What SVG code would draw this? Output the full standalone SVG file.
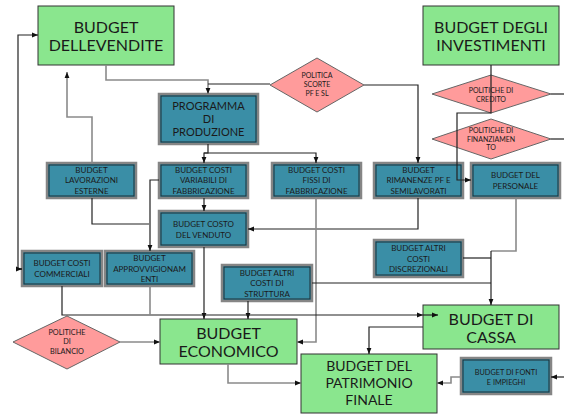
<svg xmlns="http://www.w3.org/2000/svg" width="564" height="414" viewBox="0 0 564 414">
<defs>
<style>
.g{fill:#8ae68e;stroke:#333;stroke-width:1}
.t{fill:#3a8ea6;stroke:#858585;stroke-width:2.5}
.ti{fill:none;stroke:#1d2f36;stroke-width:1}
.d{fill:#ff9b9b;stroke:#666;stroke-width:1}
text{font-family:Lato,"Open Sans",sans-serif;fill:#1a1a1a;text-anchor:middle}
.big{font-size:16px}
.pat{font-size:14px}
.mid{font-size:11px}
.sm{font-size:8px}
.fi{font-size:7.3px}
.xs{font-size:7px}
.c{fill:none;stroke:#222;stroke-width:1.2}
.cg{fill:none;stroke:#8a8a8a;stroke-width:1.6}
</style>
<marker id="a" viewBox="0 0 10 10" refX="10" refY="5" markerWidth="6" markerHeight="6" markerUnits="userSpaceOnUse" orient="auto"><path d="M0,1 L10,5 L0,9 z" fill="#111"/></marker>
</defs>
<rect width="564" height="414" fill="#fff"/>

<g id="budget-vendite"><rect class="g" x="38" y="6" width="136" height="59"/><text class="big" x="106" y="33">BUDGET</text><text class="big" x="106" y="51">DELLEVENDITE</text></g>
<g id="budget-investimenti"><rect class="g" x="423" y="6" width="136" height="59"/><text class="big" x="491" y="33">BUDGET DEGLI</text><text class="big" x="491" y="51">INVESTIMENTI</text></g>

<g id="politica-scorte"><polygon class="d" points="270,85 317,58 364,85 317,112"/><text class="xs" x="317" y="78">POLITICA</text><text class="xs" x="317" y="87">SCORTE</text><text class="xs" x="317" y="96">PF E SL</text></g>
<g id="politiche-credito"><polygon class="d" points="432,94 491,75 551,94 491,113"/><text class="xs" x="491" y="93">POLITICHE DI</text><text class="xs" x="491" y="101.5">CREDITO</text></g>
<g id="politiche-finanziamento"><polygon class="d" points="432,139 491,119 551,139 491,159"/><text class="xs" x="491" y="133">POLITICHE DI</text><text class="xs" x="491" y="141.5">FINANZIAMEN</text><text class="xs" x="491" y="150">TO</text></g>
<g id="politiche-bilancio"><polygon class="d" points="13,342 67,316 120,342 67,369"/><text class="fi" x="67" y="335">POLITICHE</text><text class="fi" x="67" y="344">DI</text><text class="fi" x="67" y="354">BILANCIO</text></g>

<g id="programma-produzione"><rect class="t" x="159" y="94" width="99" height="50"/><rect class="ti" x="161" y="96" width="95" height="46"/><text class="mid" x="208.5" y="110">PROGRAMMA</text><text class="mid" x="208.5" y="123">DI</text><text class="mid" x="208.5" y="136">PRODUZIONE</text></g>

<g id="lavorazioni-esterne"><rect class="t" x="47" y="163" width="89" height="35"/><rect class="ti" x="49" y="165" width="85" height="31"/><text class="sm" x="91.5" y="173">BUDGET</text><text class="sm" x="91.5" y="183">LAVORAZIONI</text><text class="sm" x="91.5" y="194">ESTERNE</text></g>
<g id="costi-variabili"><rect class="t" x="159" y="163" width="89" height="35"/><rect class="ti" x="161" y="165" width="85" height="31"/><text class="sm" x="203.5" y="173">BUDGET COSTI</text><text class="sm" x="203.5" y="183">VARIABILI DI</text><text class="sm" x="203.5" y="194">FABBRICAZIONE</text></g>
<g id="costi-fissi"><rect class="t" x="272" y="163" width="89" height="35"/><rect class="ti" x="274" y="165" width="85" height="31"/><text class="sm" x="316.5" y="173">BUDGET COSTI</text><text class="sm" x="316.5" y="183">FISSI DI</text><text class="sm" x="316.5" y="194">FABBRICAZIONE</text></g>
<g id="rimanenze"><rect class="t" x="374" y="163" width="89" height="35"/><rect class="ti" x="376" y="165" width="85" height="31"/><text class="sm" x="418.5" y="173">BUDGET</text><text class="sm" x="418.5" y="183">RIMANENZE PF E</text><text class="sm" x="418.5" y="194">SEMILAVORATI</text></g>
<g id="personale"><rect class="t" x="471" y="163" width="89" height="35"/><rect class="ti" x="473" y="165" width="85" height="31"/><text class="sm" x="515.5" y="178">BUDGET DEL</text><text class="sm" x="515.5" y="189">PERSONALE</text></g>
<g id="costo-venduto"><rect class="t" x="159" y="211" width="89" height="36"/><rect class="ti" x="161" y="213" width="85" height="32"/><text class="sm" x="203.5" y="227">BUDGET COSTO</text><text class="sm" x="203.5" y="238">DEL VENDUTO</text></g>
<g id="costi-commerciali"><rect class="t" x="22" y="251" width="80" height="35"/><rect class="ti" x="24" y="253" width="76" height="31"/><text class="sm" x="62" y="266">BUDGET COSTI</text><text class="sm" x="62" y="277">COMMERCIALI</text></g>
<g id="approvvigionamenti"><rect class="t" x="105" y="251" width="89" height="35"/><rect class="ti" x="107" y="253" width="85" height="31"/><text class="sm" x="149.5" y="261">BUDGET</text><text class="sm" x="149.5" y="272">APPROVVIGIONAM</text><text class="sm" x="149.5" y="282">ENTI</text></g>
<g id="altri-costi-struttura"><rect class="t" x="222" y="265" width="90" height="36"/><rect class="ti" x="224" y="267" width="86" height="32"/><text class="sm" x="267" y="276">BUDGET ALTRI</text><text class="sm" x="267" y="286">COSTI DI</text><text class="sm" x="267" y="297">STRUTTURA</text></g>
<g id="altri-costi-discrezionali"><rect class="t" x="374" y="240" width="89" height="37"/><rect class="ti" x="376" y="242" width="85" height="33"/><text class="sm" x="418.5" y="251">BUDGET ALTRI</text><text class="sm" x="418.5" y="262">COSTI</text><text class="sm" x="418.5" y="272">DISCREZIONALI</text></g>
<g id="fonti-impieghi"><rect class="t" x="461" y="358" width="90" height="36"/><rect class="ti" x="463" y="360" width="86" height="32"/><text class="fi" x="506" y="375">BUDGET DI FONTI</text><text class="fi" x="506" y="385">E IMPIEGHI</text></g>

<g id="budget-economico"><rect class="g" x="160" y="319" width="137" height="45"/><text class="big" x="228.5" y="339">BUDGET</text><text class="big" x="228.5" y="357">ECONOMICO</text></g>
<g id="budget-cassa"><rect class="g" x="423" y="305" width="136" height="44"/><text class="big" x="491" y="325">BUDGET DI</text><text class="big" x="491" y="343">CASSA</text></g>
<g id="budget-patrimonio"><rect class="g" x="301" y="354" width="136" height="59"/><text class="pat" x="369" y="371">BUDGET DEL</text><text class="pat" x="369" y="388">PATRIMONIO</text><text class="pat" x="369" y="405">FINALE</text></g>

<g id="connectors">
<path class="c" d="M22,269 H18 V35 H38" marker-end="url(#a)"/>
<path class="c" d="M18,269 H22" marker-end="url(#a)"/>
<path class="cg" d="M92,163 V117 H67 V72" marker-end="url(#a)"/>
<path class="cg" d="M106,65 V80 H208 V94" marker-end="url(#a)"/>
<path class="c" d="M270,84 H208"/>
<path class="c" d="M364,85 H418 V163" marker-end="url(#a)"/>
<path class="c" d="M208,144 V153 H204 V163" marker-end="url(#a)"/>
<path class="c" d="M204,153 H316 V163" marker-end="url(#a)"/>
<path class="c" d="M204,198 V211" marker-end="url(#a)"/>
<path class="c" d="M159,180 H150 V251" marker-end="url(#a)"/>
<path class="c" d="M92,198 V224 H149"/>
<path class="c" d="M418,198 V229 H248" marker-end="url(#a)"/>
<path class="cg" d="M316,198 V342 H297" marker-end="url(#a)"/>
<path class="c" d="M204,247 V319" marker-end="url(#a)"/>
<path class="c" d="M248,301 V319" marker-end="url(#a)"/>
<path class="c" d="M312,283 H491"/>
<path class="cg" d="M516,198 V251 H491"/>
<path class="c" d="M491,251 V305" marker-end="url(#a)"/>
<path class="c" d="M463,258 H491"/>
<path class="c" d="M62,286 V315 H423" marker-end="url(#a)"/>
<path class="c" d="M423,315 H438" marker-end="url(#a)"/>
<path class="cg" d="M150,286 V315"/>
<path class="cg" d="M120,342 H160" marker-end="url(#a)"/>
<path class="cg" d="M228,364 V383 H301" marker-end="url(#a)"/>
<path class="c" d="M423,327 H369 V354" marker-end="url(#a)"/>
<path class="cg" d="M461,377 H451 V383 H437" marker-end="url(#a)"/>
<path class="c" d="M564,377 H551" marker-end="url(#a)"/>
<path class="c" d="M491,65 V113 H457 V180 H471" marker-end="url(#a)"/>
<path class="c" d="M551,94 H564"/>
<path class="c" d="M551,139 H564"/>
</g>
</svg>
